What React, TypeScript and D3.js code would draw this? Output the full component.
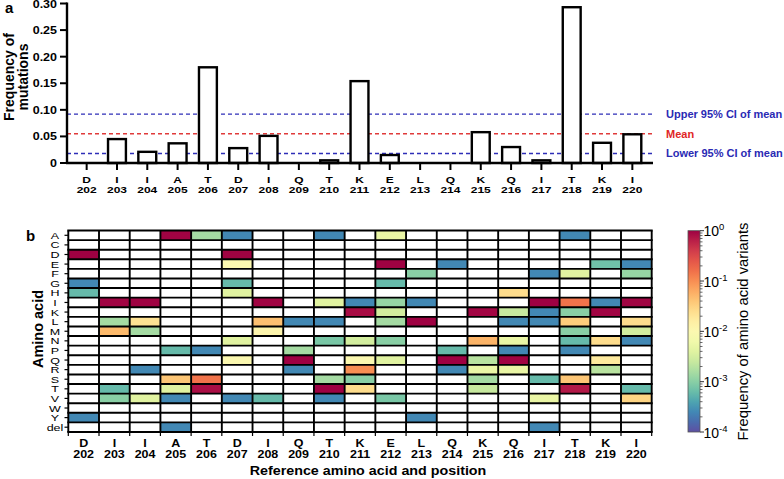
import React from "react";
import * as d3 from "d3";

const positions = ["202","203","204","205","206","207","208","209","210","211","212","213","214","215","216","217","218","219","220"];
const residues = ["D","I","I","A","T","D","I","Q","T","K","E","L","Q","K","Q","I","T","K","I"];
const mutationFreq = [0, 0.045, 0.021, 0.037, 0.18, 0.028, 0.051, 0, 0.005, 0.154, 0.015, 0, 0, 0.058, 0.030, 0.005, 0.293, 0.038, 0.054];
const refLineValues = [0.092, 0.055, 0.018];
const refLineLabels = ["Upper 95% CI of mean", "Mean", "Lower 95% CI of mean"];
const yTicks = [0, 0.05, 0.10, 0.15, 0.20, 0.25, 0.30];
const yTickLabels = ["0", "0.05", "0.10", "0.15", "0.20", "0.25", "0.30"];
const aminoAcids = ["A","C","D","E","F","G","H","I","K","L","M","N","P","Q","R","S","T","V","W","Y","del"];
// [position, amino acid, frequency]
const variantCells: [string, string, number][] = [
  ["202","D",1.0],["202","G",0.00025],["202","H",0.0006],["202","Y",0.00025],
  ["203","I",0.955],["203","L",0.0015],["203","M",0.05],["203","T",0.0006],["203","V",0.001],
  ["204","I",0.979],["204","L",0.022],["204","M",0.0015],["204","R",0.00025],["204","V",0.004],
  ["205","A",0.963],["205","P",0.0006],["205","S",0.04],["205","T",0.004],["205","V",0.00025],["205","del",0.00025],
  ["206","A",0.0015],["206","P",0.00025],["206","S",0.15],["206","T",0.82],
  ["207","A",0.00025],["207","D",0.972],["207","E",0.01],["207","G",0.0006],["207","H",0.004],["207","N",0.004],["207","Q",0.01],["207","V",0.00025],
  ["208","I",0.949],["208","L",0.045],["208","M",0.012],["208","V",0.0006],
  ["209","L",0.00025],["209","P",0.0015],["209","Q",1.0],["209","R",0.00025],
  ["210","A",0.00025],["210","I",0.004],["210","L",0.00025],["210","N",0.0008],["210","S",0.0015],["210","T",0.995],["210","V",0.00025],
  ["211","I",0.00025],["211","K",0.846],["211","N",0.003],["211","Q",0.01],["211","R",0.1],["211","S",0.001],["211","T",0.025],
  ["212","A",0.005],["212","E",0.985],["212","G",0.0006],["212","I",0.0012],["212","K",0.003],["212","L",0.0015],["212","N",0.001],["212","Q",0.004],["212","V",0.0008],
  ["213","F",0.001],["213","I",0.00025],["213","L",1.0],["213","Y",0.00025],
  ["214","E",0.00025],["214","P",0.0006],["214","Q",1.0],["214","R",0.00025],
  ["215","K",0.942],["215","N",0.055],["215","Q",0.002],["215","R",0.005],["215","S",0.0015],["215","T",0.0025],
  ["216","H",0.025],["216","K",0.0025],["216","L",0.00025],["216","N",0.005],["216","P",0.00025],["216","Q",0.97],["216","R",0.005],
  ["217","F",0.00025],["217","I",0.995],["217","K",0.00025],["217","L",0.00025],["217","S",0.0006],["217","V",0.005],["217","del",0.00025],
  ["218","A",0.00025],["218","F",0.004],["218","I",0.15],["218","K",0.001],["218","L",0.035],["218","M",0.001],["218","N",0.0006],["218","P",0.00025],["218","S",0.04],["218","T",0.707],
  ["219","E",0.0007],["219","I",0.00025],["219","K",0.962],["219","N",0.025],["219","Q",0.018],["219","R",0.002],
  ["220","E",0.00025],["220","F",0.0012],["220","I",0.946],["220","L",0.025],["220","M",0.003],["220","N",0.00025],["220","T",0.0006],["220","V",0.03],
];
const colorTicks = [1, 1e-1, 1e-2, 1e-3, 1e-4];
const colorTickExps = ["0", "-1", "-2", "-3", "-4"];

const FONT = "'Liberation Sans', Arial, Helvetica, sans-serif";

function SqText({ x, y, sy = 0.8, children, ...rest }: any) {
  return (
    <text transform={`translate(${x},${y}) scale(1,${sy})`} fontFamily={FONT} {...rest}>
      {children}
    </text>
  );
}

// two-line category label (residue over position) as one text element
function CatLabel({ x, y, sy, gap, size, top, bottom }: any) {
  return (
    <text transform={`translate(${x},${y}) scale(1,${sy})`} fontFamily={FONT}
      fontWeight="bold" fontSize={size} textAnchor="middle">
      <tspan x={0} dy={0}>{top}</tspan>
      <tspan x={0} dy={gap}>{bottom}</tspan>
    </text>
  );
}

export default function App() {
  const x = d3.scaleBand().domain(positions).range([71.5, 647.5]).paddingInner(0.41).paddingOuter(0.205);
  const y = d3.scaleLinear().domain([0, 0.3]).range([163, 3.5]);
  const hx = d3.scaleBand().domain(positions).range([68.3, 651.7]);
  const hy = d3.scaleBand().domain(aminoAcids).range([230.5, 432]);
  const logT = d3.scaleLog().domain([1e-4, 1]).range([1, 0]).clamp(true);
  const color = (v: number) => d3.interpolateSpectral(logT(v));
  const cy = d3.scaleLog().domain([1e-4, 1]).range([432, 230.7]);
  const refColors = ["#2e2eb8", "#e03a3a", "#2e2eb8"];

  const gradStops = d3.range(0, 1.0001, 0.05);
  const minorTicks: number[] = [];
  for (let e = -4; e < 0; e++) for (let m = 2; m <= 9; m++) minorTicks.push(m * Math.pow(10, e));

  const xAxisLeft = 67, xAxisRight = 653;

  return (
    <svg width={784} height={479} style={{ position: "absolute", left: 0, top: 0, background: "#fff" }}>
      {/* panel labels */}
      <text x={5} y={13} fontFamily={FONT} fontWeight="bold" fontSize={15}>a</text>
      <text x={26} y={241} fontFamily={FONT} fontWeight="bold" fontSize={15}>b</text>

      {/* ---------- Panel a ---------- */}
      <g>
        {refLineValues.map((v, i) => (
          <line key={"rl" + i} x1={xAxisLeft} x2={xAxisRight} y1={y(v)} y2={y(v)}
            stroke={refColors[i]} strokeWidth={1.4} strokeDasharray="4 3" />
        ))}
        {positions.map((p, i) => (
          mutationFreq[i] > 0 ? (
            <rect key={"b" + p} x={x(p)!} y={y(mutationFreq[i])} width={x.bandwidth()}
              height={y(0) - y(mutationFreq[i])} fill="#fff" stroke="#000" strokeWidth={2.4} />
          ) : null
        ))}
        {/* axes */}
        <line x1={xAxisLeft} x2={xAxisLeft} y1={2.5} y2={164} stroke="#000" strokeWidth={2.4} />
        <line x1={xAxisLeft - 1} x2={xAxisRight} y1={163} y2={163} stroke="#000" strokeWidth={2.4} />
        {yTicks.map((t, i) => (
          <g key={"yt" + i}>
            <line x1={60} x2={xAxisLeft} y1={y(t)} y2={y(t)} stroke="#000" strokeWidth={2} />
            <SqText x={57} y={y(t) + 4} textAnchor="end" fontWeight="bold" fontSize={12.5}>{yTickLabels[i]}</SqText>
          </g>
        ))}
        {positions.map((p, i) => {
          const cx = x(p)! + x.bandwidth() / 2;
          return (
            <g key={"xt" + p}>
              <line x1={cx} x2={cx} y1={163} y2={170} stroke="#000" strokeWidth={2} />
              <CatLabel x={cx} y={183} sy={0.8} gap={12} size={12} top={residues[i]} bottom={p} />
            </g>
          );
        })}
        <text transform="translate(13.5,77) rotate(-90)" textAnchor="middle" fontFamily={FONT} fontWeight="bold" fontSize={14}>Frequency of</text>
        <text transform="translate(28,77) rotate(-90)" textAnchor="middle" fontFamily={FONT} fontWeight="bold" fontSize={14}>mutations</text>
        {refLineValues.map((v, i) => (
          <text key={"rlt" + i} x={666} y={y(v) + 3.8} fontFamily={FONT} fontWeight="bold" fontSize={11}
            fill={i === 1 ? "#e02626" : "#2a2ab4"}>{refLineLabels[i]}</text>
        ))}
      </g>

      {/* ---------- Panel b ---------- */}
      <g>
        {positions.map((p) =>
          aminoAcids.map((a) => (
            <rect key={"e" + p + a} x={hx(p)!} y={hy(a)!} width={hx.bandwidth()} height={hy.bandwidth()}
              fill="#fff" stroke="none" />
          ))
        )}
        {variantCells.map(([p, a, v]) => (
          <rect key={"c" + p + a} x={hx(p)!} y={hy(a)!} width={hx.bandwidth()} height={hy.bandwidth()}
            fill={color(v)} stroke="none" />
        ))}
        {/* grid */}
        {positions.concat(["end"]).map((p, i) => {
          const gx = 68.3 + i * hx.step();
          return <line key={"gv" + i} x1={gx} x2={gx} y1={230.5} y2={432} stroke="#000" strokeWidth={1.9} />;
        })}
        {aminoAcids.concat(["end"]).map((a, i) => {
          const gy = 230.5 + i * hy.step();
          return <line key={"gh" + i} x1={67.3} x2={652.7} y1={gy} y2={gy} stroke="#000" strokeWidth={1.9} />;
        })}
        {aminoAcids.map((a) => {
          const c = hy(a)! + hy.bandwidth() / 2;
          return (
            <g key={"ya" + a}>
              <line x1={64.5} x2={68.3} y1={c} y2={c} stroke="#000" strokeWidth={1.2} />
              <SqText x={55} y={c + 3.6} sy={0.74} textAnchor="middle" fontSize={12.5}>{a}</SqText>
            </g>
          );
        })}
        {positions.concat(["end"]).map((p, i) => {
          const gx = 68.3 + i * hx.step();
          return <line key={"bt" + i} x1={gx} x2={gx} y1={432} y2={436} stroke="#000" strokeWidth={1.2} />;
        })}
        {positions.map((p, i) => {
          const cx = hx(p)! + hx.bandwidth() / 2;
          return <CatLabel key={"hxt" + p} x={cx} y={446.5} sy={0.8} gap={14} size={12.5} top={residues[i]} bottom={p} />;
        })}
        <text transform="translate(43,329) rotate(-90)" textAnchor="middle" fontFamily={FONT} fontWeight="bold" fontSize={14.5}>Amino acid</text>
        <SqText x={368} y={475} sy={0.9} textAnchor="middle" fontWeight="bold" fontSize={14.3}>Reference amino acid and position</SqText>
      </g>

      {/* ---------- Colorbar ---------- */}
      <defs>
        <linearGradient id="cbar" x1="0" y1="1" x2="0" y2="0">
          {gradStops.map((s, i) => (
            <stop key={i} offset={s} stopColor={d3.interpolateSpectral(1 - s)} />
          ))}
        </linearGradient>
      </defs>
      <rect x={688} y={230.7} width={12} height={432 - 230.7} fill="url(#cbar)" stroke="#555" strokeWidth={0.8} />
      {minorTicks.map((t, i) => (
        <line key={"mt" + i} x1={700} x2={702.5} y1={cy(t)} y2={cy(t)} stroke="#444" strokeWidth={0.8} />
      ))}
      {colorTicks.map((t, i) => (
        <g key={"ct" + i}>
          <line x1={700} x2={704} y1={cy(t)} y2={cy(t)} stroke="#333" strokeWidth={1} />
          <text x={703.5} y={cy(t) + 5.5} fontFamily={FONT} fontSize={14}>
            10<tspan fontSize={9.5} dy={-6}>{colorTickExps[i]}</tspan>
          </text>
        </g>
      ))}
      <text transform="translate(747.5,331.5) rotate(-90)" textAnchor="middle" fontFamily={FONT} fontSize={14.8}>
        Frequency of amino acid variants
      </text>
    </svg>
  );
}
